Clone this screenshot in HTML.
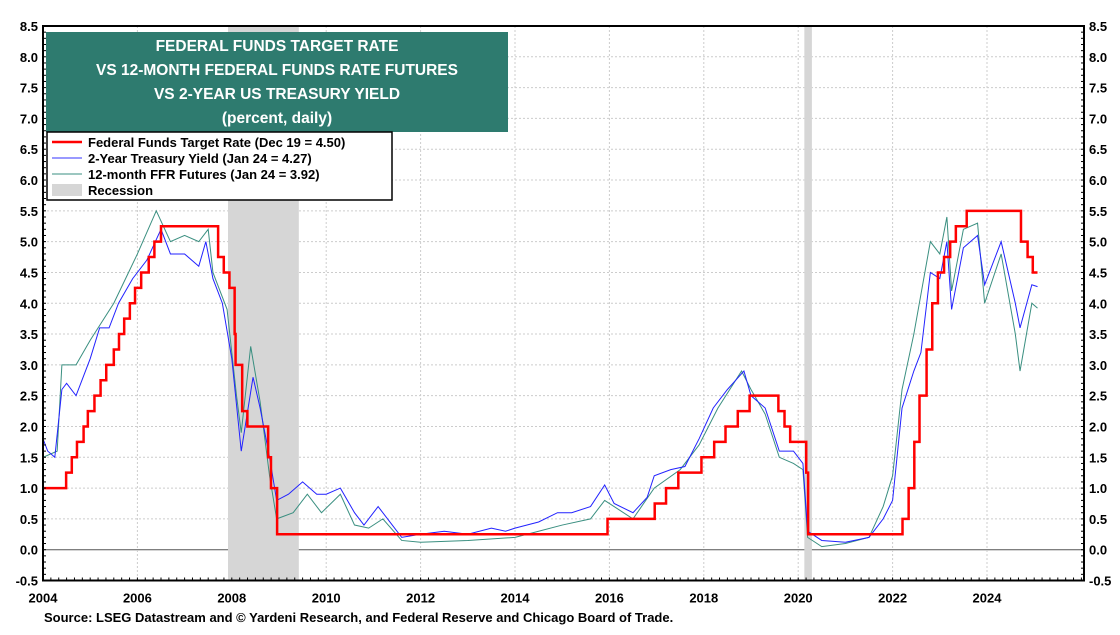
<!DOCTYPE html>
<html><head><meta charset="utf-8"><style>
body{margin:0;background:#fff;font-family:"Liberation Sans",Arial,sans-serif}
svg text{font-family:"Liberation Sans",Arial,sans-serif;font-weight:bold}
</style></head><body>
<svg id="chart" width="1120" height="630" xmlns="http://www.w3.org/2000/svg">
<g id="grid"></g>
<g id="rec"></g>
<g id="lines"></g>
<g id="axes"></g>
<rect x="46" y="32" width="462" height="100" fill="#2e7b6f"/>
<text x="277" y="51" fill="#fff" font-size="15.5" text-anchor="middle">FEDERAL FUNDS TARGET RATE</text>
<text x="277" y="75" fill="#fff" font-size="15.5" text-anchor="middle">VS 12-MONTH FEDERAL FUNDS RATE FUTURES</text>
<text x="277" y="99" fill="#fff" font-size="15.5" text-anchor="middle">VS 2-YEAR US TREASURY YIELD</text>
<text x="277" y="123" fill="#fff" font-size="15.5" text-anchor="middle">(percent, daily)</text>
<g>
<rect x="47" y="132" width="345" height="68" fill="#fff" stroke="#000" stroke-width="1.5"/>
<line x1="52" y1="142" x2="82" y2="142" stroke="#f00" stroke-width="2.5"/>
<text x="88" y="147" font-size="13">Federal Funds Target Rate (Dec 19 = 4.50)</text>
<line x1="52" y1="158" x2="82" y2="158" stroke="#33f" stroke-width="1"/>
<text x="88" y="163" font-size="13">2-Year Treasury Yield (Jan 24 = 4.27)</text>
<line x1="52" y1="174" x2="82" y2="174" stroke="#3a8f80" stroke-width="1"/>
<text x="88" y="179" font-size="13">12-month FFR Futures (Jan 24 = 3.92)</text>
<rect x="52" y="184" width="30" height="12" fill="#d6d6d6"/>
<text x="88" y="195" font-size="13">Recession</text>
</g>
<text x="44" y="622" font-size="13">Source: LSEG Datastream and © Yardeni Research, and Federal Reserve and Chicago Board of Trade.</text>
</svg>
<script>
const ffrDates=[2004,2004.49,2004.61,2004.72,2004.86,2004.95,2005.09,2005.22,2005.34,2005.5,2005.61,2005.72,2005.84,2005.95,2006.08,2006.24,2006.36,2006.5,2007.71,2007.83,2007.95,2008.06,2008.08,2008.22,2008.33,2008.77,2008.83,2008.96,2015.96,2016.96,2017.2,2017.46,2017.95,2018.22,2018.46,2018.72,2018.97,2019.58,2019.71,2019.83,2020.17,2020.21,2022.21,2022.34,2022.46,2022.57,2022.72,2022.84,2022.96,2023.09,2023.22,2023.34,2023.57,2024.72,2024.86,2024.97,2025.07];
const ffrValues=[1,1.25,1.5,1.75,2,2.25,2.5,2.75,3,3.25,3.5,3.75,4,4.25,4.5,4.75,5,5.25,4.75,4.5,4.25,3.5,3,2.25,2,1.5,1,0.25,0.5,0.75,1,1.25,1.5,1.75,2,2.25,2.5,2.25,2,1.75,1.25,0.25,0.5,1,1.75,2.5,3.25,4,4.5,4.75,5,5.25,5.5,5,4.75,4.5,4.5];
const t2Dates=[2004,2004.1,2004.25,2004.4,2004.5,2004.7,2005,2005.2,2005.4,2005.6,2005.9,2006.2,2006.5,2006.7,2007,2007.3,2007.45,2007.6,2007.8,2008,2008.2,2008.45,2008.6,2008.8,2008.95,2009.2,2009.5,2009.8,2010,2010.3,2010.6,2010.8,2011.1,2011.4,2011.6,2012,2012.5,2013,2013.5,2013.8,2014,2014.5,2014.9,2015.2,2015.6,2015.9,2016.1,2016.5,2016.8,2016.95,2017.3,2017.6,2017.9,2018.2,2018.5,2018.85,2019,2019.3,2019.6,2019.9,2020.1,2020.2,2020.5,2021,2021.5,2021.8,2022,2022.2,2022.45,2022.6,2022.8,2023,2023.15,2023.25,2023.5,2023.8,2023.95,2024.3,2024.6,2024.7,2024.95,2025.07];
const t2Values=[1.8,1.6,1.5,2.6,2.7,2.5,3.1,3.6,3.6,4.0,4.4,4.7,5.2,4.8,4.8,4.6,5.0,4.4,4.0,3.1,1.6,2.8,2.3,1.5,0.8,0.9,1.1,0.9,0.9,1.0,0.6,0.4,0.7,0.4,0.2,0.25,0.3,0.25,0.35,0.3,0.35,0.45,0.6,0.6,0.7,1.05,0.75,0.6,0.85,1.2,1.3,1.35,1.8,2.3,2.6,2.9,2.5,2.3,1.6,1.6,1.4,0.3,0.15,0.12,0.2,0.5,0.8,2.3,2.9,3.2,4.5,4.4,5.0,3.9,4.9,5.1,4.3,5.0,4.0,3.6,4.3,4.27];
const futDates=[2004,2004.3,2004.4,2004.7,2005,2005.5,2006,2006.4,2006.7,2007,2007.3,2007.5,2007.6,2007.9,2008.1,2008.2,2008.4,2008.6,2008.8,2008.95,2009.3,2009.6,2009.9,2010.3,2010.6,2010.9,2011.2,2011.6,2012,2013,2014,2014.5,2015,2015.6,2015.9,2016.5,2016.95,2017.5,2017.9,2018.3,2018.8,2019,2019.3,2019.6,2019.9,2020.1,2020.2,2020.5,2021,2021.5,2021.8,2022,2022.2,2022.45,2022.8,2023,2023.15,2023.25,2023.5,2023.8,2023.95,2024.3,2024.6,2024.7,2024.95,2025.07];
const futValues=[1.5,1.6,3.0,3.0,3.4,4.0,4.8,5.5,5.0,5.1,5.0,5.2,4.5,3.9,2.5,1.9,3.3,2.4,1.2,0.5,0.6,0.9,0.6,0.9,0.4,0.35,0.5,0.15,0.12,0.15,0.2,0.3,0.4,0.5,0.8,0.5,1.0,1.3,1.7,2.3,2.9,2.6,2.2,1.5,1.4,1.3,0.2,0.05,0.1,0.2,0.7,1.2,2.6,3.5,5.0,4.8,5.4,4.2,5.2,5.3,4.0,4.8,3.5,2.9,4.0,3.92];
const recStart=[2007.92,2020.13];
const recEnd=[2009.42,2020.29];
const yTicks=[-0.5,0,0.5,1,1.5,2,2.5,3,3.5,4,4.5,5,5.5,6,6.5,7,7.5,8,8.5];
const xTicks=[2004,2006,2008,2010,2012,2014,2016,2018,2020,2022,2024];
const L=43,R=1084,T=26,B=580.5;
const x=v=>L+(v-2004)*47.2;
const y=v=>B-(v+0.5)*(B-T)/9;
const NS='http://www.w3.org/2000/svg';
function mk(tag,parent,attrs){const e=document.createElementNS(NS,tag);for(const k in attrs)e.setAttribute(k,attrs[k]);parent.appendChild(e);return e;}
const grid=document.getElementById('grid'),rec=document.getElementById('rec'),lines=document.getElementById('lines'),axes=document.getElementById('axes');
yTicks.forEach(v=>{
 const g=mk('line',grid,{x1:L,x2:R,y1:y(v),y2:y(v),stroke:v===0?'#555':'#ccc','stroke-width':1,'stroke-dasharray':v===0?'':'2,2'});
 
 
 const t1=mk('text',axes,{x:L-5,y:y(v)+5,'font-size':13,'text-anchor':'end'});t1.textContent=v.toFixed(1);
 
 
 const t2=mk('text',axes,{x:R+5,y:y(v)+5,'font-size':13});t2.textContent=v.toFixed(1);
 
 
});
for(let v=-0.5;v<=8.5;v+=0.1){mk('line',axes,{x1:L,x2:L+3,y1:y(v),y2:y(v),stroke:'#000'});mk('line',axes,{x1:R-3,x2:R,y1:y(v),y2:y(v),stroke:'#000'});}
xTicks.forEach(v=>{
 if(v>2004){const g=mk('line',grid,{x1:x(v),x2:x(v),y1:T,y2:B,stroke:'#ccc','stroke-dasharray':'2,2'});
 
 }
 const t=mk('text',axes,{x:x(v),y:B+22,'font-size':13,'text-anchor':'middle'});t.textContent=v;
 
 
});
for(let v=2004;v<2026.1;v+=1/6){mk('line',axes,{x1:x(v),x2:x(v),y1:B-3,y2:B,stroke:'#000'});}
recStart.forEach((s,i)=>{const r=mk('rect',rec,{x:x(s),y:T,width:x(recEnd[i])-x(s),height:B-T,fill:'#d6d6d6'});
 
 });
function path(d,v,step){let s='';for(let i=0;i<d.length;i++){if(i===0)s+='M'+x(d[i])+','+y(v[i]);else if(step)s+='H'+x(d[i])+'V'+y(v[i]);else s+='L'+x(d[i])+','+y(v[i]);}return s;}
const pf=mk('path',lines,{d:path(futDates,futValues,false),fill:'none',stroke:'#3a8f80','stroke-width':1});


const pt=mk('path',lines,{d:path(t2Dates,t2Values,false),fill:'none',stroke:'#2222ff','stroke-width':1});


const pr=mk('path',lines,{d:path(ffrDates,ffrValues,true),fill:'none',stroke:'#f00','stroke-width':2.5});


const fr=mk('rect',axes,{x:L,y:T,width:R-L,height:B-T,fill:'none',stroke:'#000','stroke-width':2});


</script>
</body></html>
